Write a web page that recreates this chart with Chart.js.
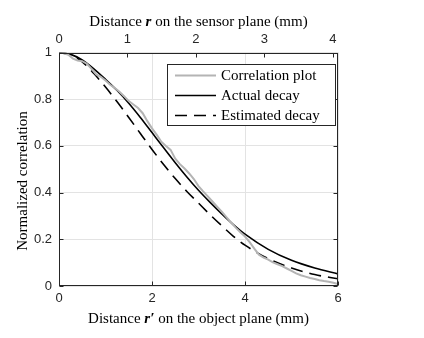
<!DOCTYPE html>
<html><head><meta charset="utf-8">
<script src="https://cdn.jsdelivr.net/npm/chart.js@4/dist/chart.umd.min.js"></script>
<style>html,body{margin:0;padding:0;background:#fff;}#wrap{width:424px;height:338px;position:relative;}</style>
</head><body><div id="wrap"><canvas id="c" width="424" height="338"></canvas></div>
<script>
// ---- data ----
const seriesNames = ['Correlation plot', 'Actual decay', 'Estimated decay'];
const xCorr = [0,0.1,0.2,0.3,0.4,0.5,0.6,0.7,0.8,0.9,1.0,1.1,1.2,1.3,1.4,1.5,1.6,1.7,1.8,1.9,2.0,2.1,2.2,2.3,2.4,2.5,2.6,2.7,2.8,2.9,3.0,3.1,3.2,3.3,3.4,3.5,3.6,3.7,3.8,3.9,4.0,4.1,4.2,4.3,4.4,4.5,4.6,4.7,4.8,4.9,5.0,5.1,5.2,5.3,5.4,5.5,5.6,5.7,5.8,5.9,6.0];
const corrPlot = [1.0,0.998,0.99,0.974,0.966,0.963,0.952,0.93,0.906,0.896,0.88,0.862,0.848,0.832,0.813,0.792,0.777,0.762,0.74,0.706,0.675,0.648,0.618,0.6,0.583,0.545,0.522,0.503,0.482,0.458,0.428,0.405,0.384,0.362,0.34,0.318,0.295,0.272,0.25,0.23,0.212,0.188,0.16,0.134,0.122,0.113,0.101,0.093,0.085,0.075,0.065,0.054,0.046,0.04,0.034,0.03,0.025,0.021,0.018,0.014,0.008];
const xFit = [0,0.25,0.5,0.75,1,1.25,1.5,1.75,2,2.25,2.5,2.75,3,3.25,3.5,3.75,4,4.5,5,5.5,6];
const actualDecay = [1,0.992,0.968,0.93,0.885,0.837,0.783,0.722,0.657,0.592,0.528,0.467,0.41,0.358,0.309,0.263,0.222,0.157,0.11,0.077,0.052];
const estimatedDecay = [1,0.99,0.96,0.91,0.852,0.789,0.722,0.653,0.585,0.52,0.46,0.405,0.355,0.305,0.258,0.213,0.175,0.117,0.077,0.049,0.031];
const bottomTicks = [0,2,4,6];
const topTicks = [0,1,2,3,4];
const topMax = 4.075;           // sensor-plane distance at the right edge
const yTicks = [0,0.2,0.4,0.6,0.8,1];
const yTickLabels = ['0','0.2','0.4','0.6','0.8','1'];

const toXY = (xs, ys) => xs.map((x, i) => ({x: x, y: ys[i]}));

const AXIS = '#262626';
const tickFont = {family: 'Liberation Sans', size: 13};
const SERIF = '"Liberation Serif"';

function drawMixed(ctx, parts, cx, cy) {
  let w = 0;
  parts.forEach(p => { ctx.font = p[1]; w += ctx.measureText(p[0]).width; });
  let x = cx - w / 2;
  parts.forEach(p => { ctx.font = p[1]; ctx.fillText(p[0], x, cy); x += ctx.measureText(p[0]).width; });
}

const decor = {
  id: 'decor',
  afterDatasetsDraw(chart) {
    const ctx = chart.ctx, a = chart.chartArea;
    const L = Math.round(a.left) + 0.5, R = Math.round(a.right) - 0.5;
    const T = Math.round(a.top) + 0.5, B = Math.round(a.bottom) - 0.5;
    ctx.save();
    ctx.strokeStyle = AXIS; ctx.lineWidth = 1;
    ctx.strokeRect(L, T, R - L, B - T);
    // inward tick marks
    const tl = 4;
    ctx.beginPath();
    const sx = chart.scales.x, sx2 = chart.scales.x2, sy = chart.scales.y;
    sx.ticks.forEach(t => { const p = Math.round(sx.getPixelForValue(t.value)) + 0.5; ctx.moveTo(p, B); ctx.lineTo(p, B - tl); });
    sx2.ticks.forEach(t => { const p = Math.round(sx2.getPixelForValue(t.value)) + 0.5; ctx.moveTo(p, T); ctx.lineTo(p, T + tl); });
    sy.ticks.forEach(t => { const p = Math.round(sy.getPixelForValue(t.value)) + 0.5; ctx.moveTo(L, p); ctx.lineTo(L + tl, p); ctx.moveTo(R, p); ctx.lineTo(R - tl, p); });
    ctx.stroke();

    // axis titles
    ctx.fillStyle = '#000';
    ctx.textBaseline = 'alphabetic';
    const cx = (a.left + a.right) / 2;
    const reg = '15px ' + SERIF, bi = 'italic bold 15px ' + SERIF;
    drawMixed(ctx, [['Distance ', reg], ['r', bi], [' on the sensor plane (mm)', reg]], cx, 26);
    drawMixed(ctx, [['Distance ', reg], ['r\u2032', bi], [' on the object plane (mm)', reg]], cx, 323);
    ctx.save();
    ctx.translate(27, 181);
    ctx.rotate(-Math.PI / 2);
    ctx.font = reg; ctx.textAlign = 'center';
    ctx.fillText('Normalized correlation', 0, 0);
    ctx.restore();

    // legend box
    const bx = 167.5, by = 64.5, bw = 168, bh = 61;
    ctx.fillStyle = '#fff';
    ctx.fillRect(bx, by, bw, bh);
    ctx.strokeStyle = AXIS; ctx.lineWidth = 1;
    ctx.strokeRect(bx, by, bw, bh);
    const rows = [75.5, 95.5, 115.5];
    chart.data.datasets.forEach((ds, i) => {
      ctx.beginPath();
      ctx.strokeStyle = ds.borderColor; ctx.lineWidth = ds.borderWidth;
      ctx.setLineDash(ds.borderDash || []);
      ctx.moveTo(175, rows[i]); ctx.lineTo(216, rows[i]);
      ctx.stroke();
      ctx.setLineDash([]);
      ctx.fillStyle = '#000'; ctx.font = reg; ctx.textBaseline = 'middle'; ctx.textAlign = 'left';
      ctx.fillText(ds.label, 221, rows[i] + 1);
    });
    ctx.restore();
  }
};

new Chart(document.getElementById('c'), {
  type: 'line',
  data: {
    datasets: [
      {label: seriesNames[0], data: toXY(xCorr, corrPlot), borderColor: '#b4b4b4', borderWidth: 2, pointRadius: 0, tension: 0, xAxisID: 'x', yAxisID: 'y'},
      {label: seriesNames[1], data: toXY(xFit, actualDecay), borderColor: '#000', borderWidth: 1.6, pointRadius: 0, cubicInterpolationMode: 'monotone', xAxisID: 'x', yAxisID: 'y'},
      {label: seriesNames[2], data: toXY(xFit, estimatedDecay), borderColor: '#000', borderWidth: 1.6, borderDash: [12, 7], pointRadius: 0, cubicInterpolationMode: 'monotone', xAxisID: 'x', yAxisID: 'y'}
    ]
  },
  options: {
    responsive: false,
    animation: false,
    devicePixelRatio: 1,
    layout: {padding: {left: 0, right: 86, top: 0, bottom: 0}},
    plugins: {legend: {display: false}, tooltip: {enabled: false}},
    scales: {
      x: {
        type: 'linear', position: 'bottom', min: 0, max: 6,
        afterBuildTicks: s => { s.ticks = bottomTicks.map(v => ({value: v})); },
        afterFit: s => { s.height = 52; },
        ticks: {font: tickFont, color: AXIS, padding: 5, maxRotation: 0, callback: v => String(v)},
        grid: {color: '#e3e3e3', lineWidth: 1, drawTicks: false},
        border: {display: false}
      },
      x2: {
        type: 'linear', position: 'top', min: 0, max: topMax,
        afterBuildTicks: s => { s.ticks = topTicks.map(v => ({value: v})); },
        afterFit: s => { s.height = 52.5; },
        ticks: {font: tickFont, color: AXIS, padding: 5, maxRotation: 0, callback: v => String(v)},
        grid: {drawOnChartArea: false, drawTicks: false},
        border: {display: false}
      },
      y: {
        type: 'linear', position: 'left', min: 0, max: 1,
        afterBuildTicks: s => { s.ticks = yTicks.map(v => ({value: v})); },
        afterFit: s => { s.width = 59; },
        ticks: {font: tickFont, color: AXIS, padding: 7, callback: (v) => yTickLabels[yTicks.indexOf(v)] ?? String(v)},
        grid: {color: '#e3e3e3', lineWidth: 1, drawTicks: false},
        border: {display: false}
      }
    }
  },
  plugins: [decor]
});
</script>
</body></html>
